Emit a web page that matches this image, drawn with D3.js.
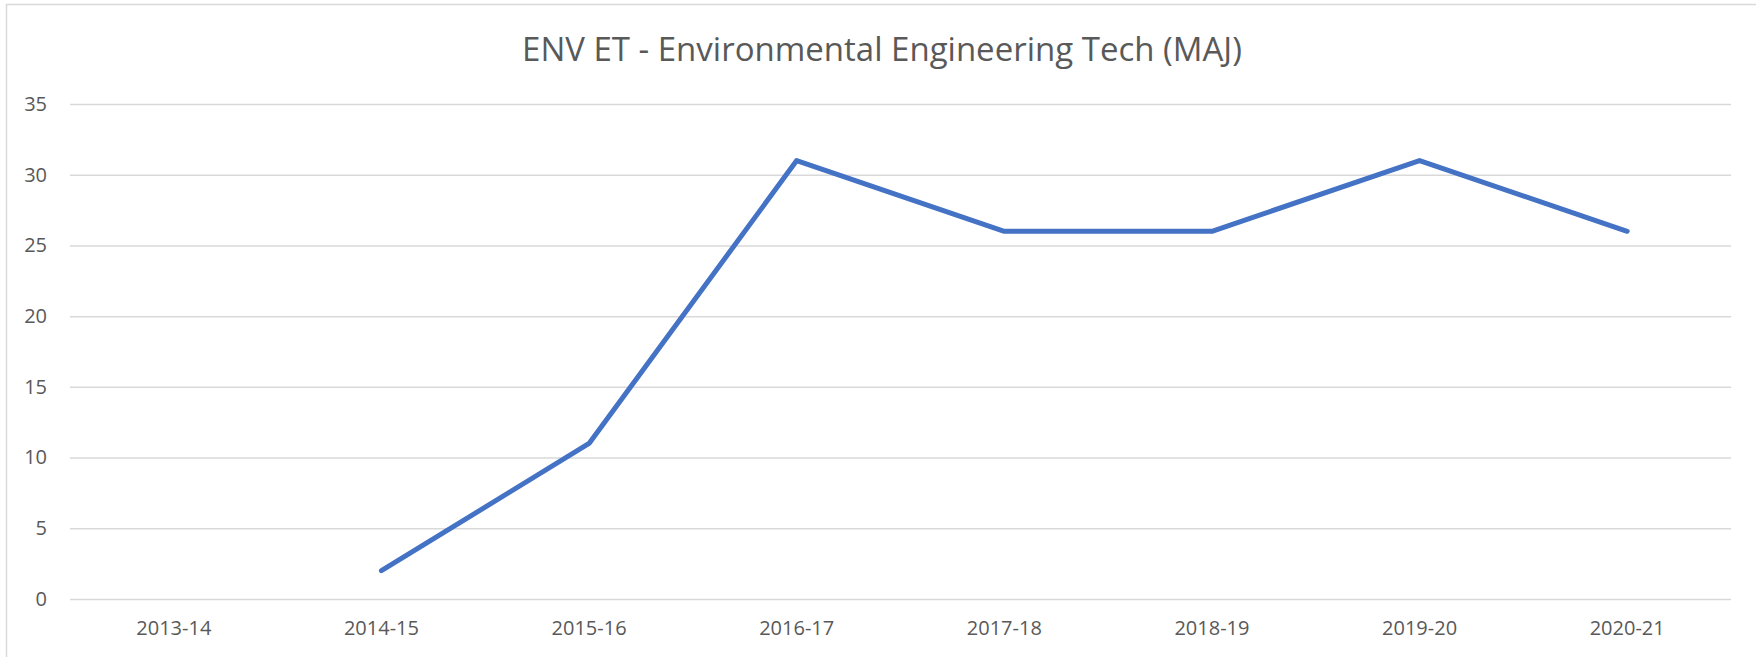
<!DOCTYPE html>
<html>
<head>
<meta charset="utf-8">
<script src="https://cdn.jsdelivr.net/npm/d3@7"></script>
<style>
  body { margin: 0; background: #fff; }
  svg { display: block; }
</style>
</head>
<body>
<svg id="chart"></svg>
<script>

var years = ["2013-14", "2014-15", "2015-16", "2016-17", "2017-18", "2018-19", "2019-20", "2020-21"]
var counts = [null, 2, 11, 31, 26, 26, 31, 26]
var yTicks = [0, 5, 10, 15, 20, 25, 30, 35]
var chartTitle = "ENV ET - Environmental Engineering Tech (MAJ)"

var screen = { width: 1756, height: 657 }
var margin = { left: 70, right: 25, top: 104, bottom: 58 }

var width = screen.width - margin.left - margin.right
var height = screen.height - margin.top - margin.bottom

var svg = d3.select("#chart")
  .attr("width", screen.width)
  .attr("height", screen.height)

// chart frame (only left and top edges fall inside the picture)
svg.append("rect")
  .attr("x", 6.5)
  .attr("y", 4.5)
  .attr("width", 1900)
  .attr("height", 800)
  .attr("fill", "none")
  .attr("stroke", "#d9d9d9")
  .attr("stroke-width", 1.5)

var xScale = d3.scaleBand()
  .domain(years)
  .range([0, width])

var yScale = d3.scaleLinear()
  .domain([0, 35])
  .range([height, 0])

var plot = svg.append("g")
  .attr("transform", "translate(" + margin.left + "," + margin.top + ")")

// gridlines + y labels
var yAxis = d3.axisLeft(yScale)
  .tickValues(yTicks)
  .tickSize(-width)
  .tickPadding(23)

plot.append("g")
  .attr("class", "y-axis")
  .call(yAxis)
  .call(function(g){
    g.select(".domain").remove()
    g.selectAll(".tick line")
      .attr("stroke", "#d9d9d9")
      .attr("stroke-width", 1.5)
    g.selectAll(".tick text")
      .attr("fill", "#595959")
      .attr("font-family", "'Open Sans', sans-serif")
      .attr("font-size", "20px")
  })

// x labels
var xAxis = d3.axisBottom(xScale)
  .tickSize(0)
  .tickPadding(22)

plot.append("g")
  .attr("class", "x-axis")
  .attr("transform", "translate(0," + height + ")")
  .call(xAxis)
  .call(function(g){
    g.select(".domain").remove()
    g.selectAll(".tick text")
      .attr("fill", "#595959")
      .attr("font-family", "'Open Sans', sans-serif")
      .attr("font-size", "20px")
  })

var line = d3.line()
  .defined(function(d){ return d != null })
  .x(function(d, i){ return xScale(years[i]) + xScale.bandwidth() / 2 })
  .y(function(d){ return yScale(d) })

plot.append("path")
  .datum(counts)
  .attr("d", line)
  .attr("fill", "none")
  .attr("stroke", "#4472c4")
  .attr("stroke-width", 5)
  .attr("stroke-linejoin", "round")
  .attr("stroke-linecap", "round")

svg.append("text")
  .attr("x", 882)
  .attr("y", 61)
  .attr("text-anchor", "middle")
  .attr("fill", "#595959")
  .attr("font-family", "'Open Sans', sans-serif")
  .attr("font-size", "33px")
  .text(chartTitle)

</script>
</body>
</html>
